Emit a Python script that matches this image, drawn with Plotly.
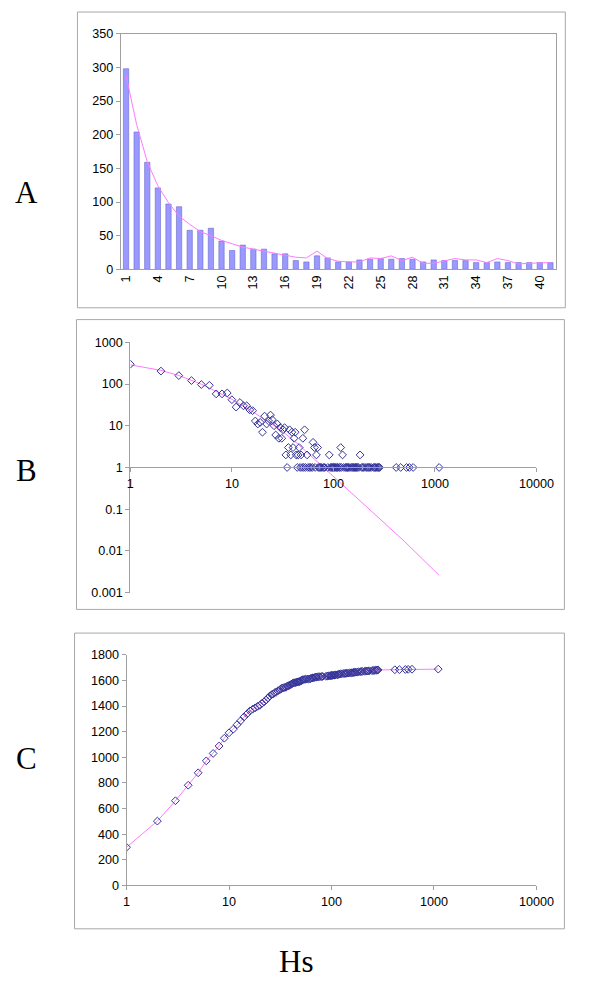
import numpy as np
import plotly.graph_objects as go

# ---------------- data ----------------
# Panel A: histogram of first 41 Hs classes, with fitted curve
a_categories = list(range(1, 42))
a_counts = [298, 204, 159, 121, 97, 93, 58, 58, 61, 42,
            28, 36, 30, 30, 23, 23, 13, 11, 20, 17,
            11, 11, 14, 15, 16, 15, 16, 15, 11, 14,
            13, 13, 13, 10, 10, 11, 10, 10, 10, 10, 10]
a_fit = [288, 215, 160, 124, 99, 79, 67, 56, 50, 43,
         38, 33, 30, 27, 25, 22, 18, 17, 27, 16,
         12, 11, 11, 17, 16, 20, 13, 18, 9, 9,
         13, 16, 14, 14, 10, 16, 13, 8, 9, 9, 10]
a_ticks = list(range(1, 42, 3))

# Panel B/C: Hs values and their frequencies
hs_values = ([1, 2, 3, 4, 5, 6, 7, 8, 9, 10, 11, 12, 13, 14, 15, 16, 17, 18]
             + [19, 20, 21, 22, 23, 24, 25, 26, 27, 28, 29, 30, 31, 32]
             + [33, 34, 35, 36, 37, 38, 39, 40, 41]
             + [42, 43, 44, 45, 46, 47, 48, 49, 50, 51, 52, 53, 55, 56, 58, 60, 62, 63, 65, 66,
                68, 70, 71, 73, 75, 77, 80, 82, 88, 91, 93, 96, 98, 100]
             + [101, 103, 106, 108, 110, 114, 116, 118, 120, 123, 127, 132, 135, 138, 140,
                145, 150, 155, 158, 162, 165, 168, 172, 178, 183, 190, 195, 200, 210, 215,
                222, 228, 235, 248, 255, 260, 268, 275, 280, 285]
             + [415, 460, 525, 560, 610, 1100])
hs_counts = ([298, 204, 159, 121, 97, 93, 58, 58, 61, 42, 28, 36, 30, 30, 24, 23, 13, 11]
             + [12, 7, 17, 11, 13, 18, 14, 10, 6, 11, 5, 9, 5, 8]
             + [9, 2, 1, 3, 8, 2, 7, 3, 5]
             + [7, 2, 1, 2, 3, 1, 2, 1, 5, 1, 8, 1, 2, 1, 1, 1, 1, 4, 3, 1,
                2, 3, 1, 1, 1, 1, 1, 1, 1, 2, 1, 1, 1, 1]
             + [1, 1, 1, 1, 1, 1, 1, 3, 1, 2, 1, 1, 1, 1, 1,
                1, 1, 1, 1, 1, 1, 1, 1, 1, 2, 1, 1, 1, 1, 1,
                1, 1, 1, 1, 1, 1, 1, 1, 1, 1]
             + [1, 1, 1, 1, 1, 1])

# Panel B fitted curve
b_fit_x = [1, 2, 3, 4, 5, 6, 8, 10, 15, 20, 30, 45, 60, 100, 200, 500, 1100]
b_fit_y = [288, 212, 160, 124, 99, 80, 56, 43, 24, 15, 8, 3.6, 1.9, 0.62, 0.13, 0.017, 0.0026]

b_yticks = [1000, 100, 10, 1, 0.1, 0.01, 0.001]
b_yticktext = ["1000", "100", "10", "1", "0.1", "0.01", "0.001"]
log_xticks = [1, 10, 100, 1000, 10000]
log_xticktext = ["1", "10", "100", "1000", "10000"]

# Panel C: cumulative frequency
c_cum = np.cumsum(hs_counts)

# ---------------- styling ----------------
# page body has an 8px default margin; the figure is sized to fit inside 600x1000
OFF = 8
W, H = 600 - 2 * OFF, 1000 - 2 * OFF
def fx(p):
    return (p - OFF) / W
def fy(p):
    return 1 - (p - OFF) / H

AX = "#a0a0a0"
PINK = "#ff7aff"
NAVY = "#34349a"
FONT = dict(family="Liberation Sans, Arial, sans-serif", size=12.6, color="black")

fig = go.Figure()

# Panel A
fig.add_trace(go.Bar(x=a_categories, y=a_counts, xaxis="x", yaxis="y",
                     marker=dict(color="#9999ff", line=dict(color="#6a6acc", width=0.6))))
fig.add_trace(go.Scatter(x=a_categories, y=a_fit, xaxis="x", yaxis="y", mode="lines",
                         line=dict(color=PINK, width=1)))

# Panel B
fig.add_trace(go.Scatter(x=b_fit_x, y=b_fit_y, xaxis="x2", yaxis="y2", mode="lines",
                         line=dict(color=PINK, width=1)))
fig.add_trace(go.Scatter(x=hs_values, y=hs_counts, xaxis="x2", yaxis="y2", mode="markers",
                         marker=dict(symbol="diamond-open", size=6, color=NAVY,
                                     line=dict(color=NAVY, width=1))))

# Panel C
fig.add_trace(go.Scatter(x=hs_values, y=c_cum, xaxis="x3", yaxis="y3", mode="lines+markers",
                         line=dict(color=PINK, width=1),
                         marker=dict(symbol="diamond-open", size=6, color=NAVY,
                                     line=dict(color=NAVY, width=1))))

common = dict(showgrid=False, zeroline=False, showline=True, linecolor=AX, linewidth=1,
              tickfont=FONT, tickcolor=AX, ticklen=4)

fig.update_layout(
    width=W, height=H,
    margin=dict(l=0, r=0, t=0, b=0),
    paper_bgcolor="white", plot_bgcolor="white",
    showlegend=False, bargap=0.5,
    xaxis=dict(domain=[fx(121), fx(573)], range=[0.5, 41.5], anchor="y",
               tickmode="array", tickvals=a_ticks, ticktext=[str(t) for t in a_ticks],
               tickangle=-90, ticks="", mirror=True, **common),
    yaxis=dict(domain=[fy(266), fy(27)], range=[0, 350], dtick=50, anchor="x",
               ticks="outside", mirror=True, **common),
    xaxis2=dict(domain=[fx(131), fx(553)], type="log", range=[0, 4], anchor="free",
                position=fy(467), tickmode="array", tickvals=log_xticks,
                ticktext=log_xticktext, ticks="outside", **common),
    yaxis2=dict(domain=[fy(594), fy(340)], type="log", range=[-3, 3], anchor="x2",
                tickmode="array", tickvals=b_yticks, ticktext=b_yticktext,
                ticks="outside", **common),
    xaxis3=dict(domain=[fx(127), fx(553)], type="log", range=[0, 4], anchor="y3",
                tickmode="array", tickvals=log_xticks, ticktext=log_xticktext,
                ticks="outside", **common),
    yaxis3=dict(domain=[fy(891), fy(657)], range=[0, 1800], dtick=200, anchor="x3",
                ticks="outside", **common),
)

# outer frames
for (x0, x1, y0, y1) in [(76, 583, 5, 305), (75, 582, 317, 611), (73, 582, 635, 935)]:
    fig.add_shape(type="rect", xref="paper", yref="paper",
                  x0=fx(x0), x1=fx(x1), y0=fy(y1), y1=fy(y0),
                  line=dict(color="#a8a8a8", width=1), fillcolor="rgba(0,0,0,0)")

LETTER = dict(family="Liberation Serif, Times New Roman, serif", size=31, color="black")
for txt, px, py in [("A", 23, 188), ("B", 23, 470), ("C", 23, 762), ("Hs", 303, 968)]:
    fig.add_annotation(text=txt, xref="paper", yref="paper", x=fx(px), y=fy(py),
                       xanchor="center", yanchor="middle", showarrow=False, font=LETTER)

fig.write_html("out.html")
